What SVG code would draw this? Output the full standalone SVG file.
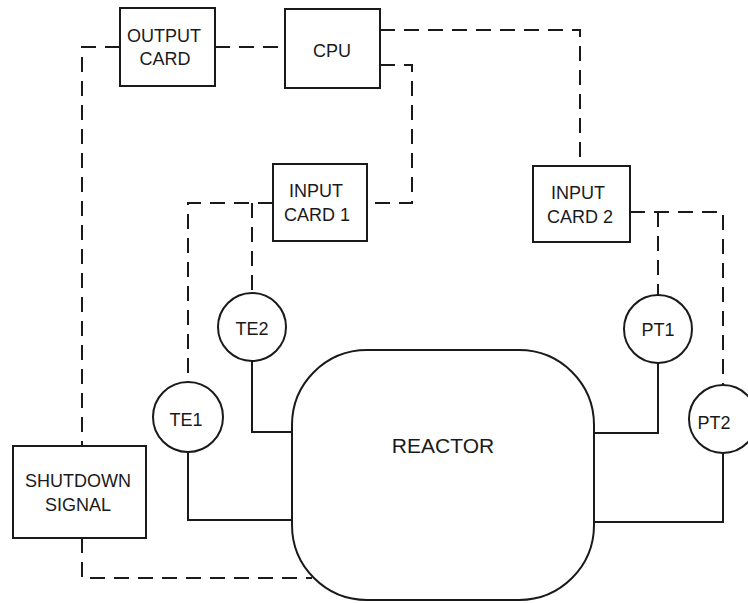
<svg xmlns="http://www.w3.org/2000/svg" width="748" height="603" viewBox="0 0 748 603">
<style>
.box{fill:none;stroke:#1a1a1a;stroke-width:2}
.sig{fill:none;stroke:#1a1a1a;stroke-width:2;stroke-dasharray:15 9}
.pipe{fill:none;stroke:#1a1a1a;stroke-width:2}
text{font-family:"Liberation Sans",Arial,sans-serif;font-size:18px;fill:#1a1a1a;text-anchor:middle}
</style>
<rect width="748" height="603" fill="#fff"/>
<g id="connectors">
<path class="sig" d="M120 47 H82 V446"/>
<path class="sig" d="M82 538 V578 H312"/>
<path class="sig" d="M215 47 H285"/>
<path class="sig" d="M380 30 H580 V166"/>
<path class="sig" d="M380 65 H412 V203 H367"/>
<path class="sig" d="M273 203 H188 V382"/>
<path class="sig" d="M252 203 V293"/>
<path class="sig" d="M630 212 H723 V385"/>
<path class="sig" d="M658 212 V295"/>
<path class="pipe" d="M252 361 V432 H292"/>
<path class="pipe" d="M188 452 V520 H292"/>
<path class="pipe" d="M658 363 V433 H594"/>
<path class="pipe" d="M723 453 V522 H594"/>
</g>
<g id="output-card"><rect class="box" x="120" y="8" width="95" height="78"/><text x="164" y="42">OUTPUT</text><text x="165" y="65">CARD</text></g>
<g id="cpu"><rect class="box" x="285" y="9" width="95" height="79"/><text x="332" y="57">CPU</text></g>
<g id="input-card-1"><rect class="box" x="273" y="164" width="94" height="77"/><text x="316" y="197">INPUT</text><text x="317" y="221">CARD 1</text></g>
<g id="input-card-2"><rect class="box" x="533" y="166" width="97" height="76"/><text x="578" y="199">INPUT</text><text x="580" y="223">CARD 2</text></g>
<g id="te2"><circle class="box" cx="252" cy="327" r="34"/><text x="252" y="335">TE2</text></g>
<g id="te1"><circle class="box" cx="188" cy="417" r="35"/><text x="186" y="426">TE1</text></g>
<g id="pt1"><circle class="box" cx="658" cy="329" r="34"/><text x="658" y="336">PT1</text></g>
<g id="pt2"><circle class="box" cx="723" cy="419" r="34"/><text x="714" y="429">PT2</text></g>
<g id="shutdown"><rect class="box" x="13" y="446" width="133" height="92"/><text x="78" y="487">SHUTDOWN</text><text x="78" y="511">SIGNAL</text></g>
<g id="reactor"><rect class="box" x="292" y="350" width="302" height="250" rx="75" ry="75"/><text x="443" y="453" style="font-size:21px">REACTOR</text></g>
</svg>
